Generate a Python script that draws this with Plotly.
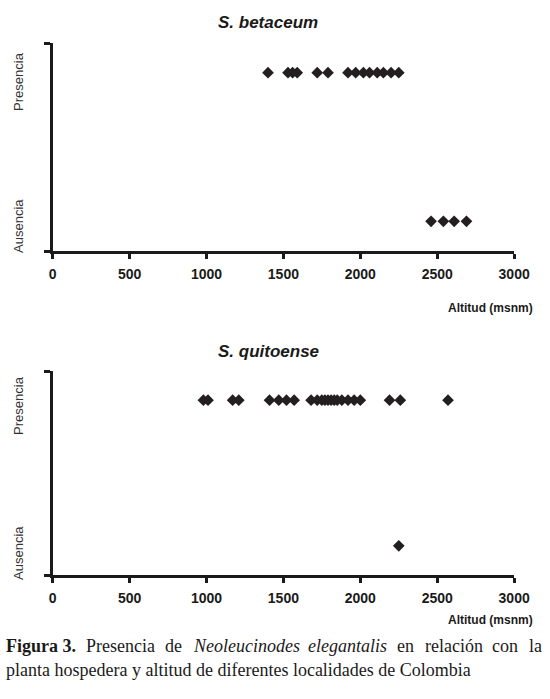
import plotly.graph_objects as go

# ---- data ----
x_ticks = [0, 500, 1000, 1500, 2000, 2500, 3000]
bet_presencia = [1400, 1530, 1560, 1590, 1720, 1790, 1920, 1970, 2020, 2060, 2110, 2150, 2200, 2250]
bet_ausencia = [2460, 2540, 2610, 2690]
qui_presencia = [980, 1010, 1170, 1210, 1410, 1470, 1520, 1570, 1680, 1720, 1750, 1770, 1790,
                 1810, 1830, 1850, 1880, 1920, 1960, 2000, 2190, 2260, 2570]
qui_ausencia = [2250]
titles = ["S. betaceum", "S. quitoense"]
y_labels = ["Presencia", "Ausencia"]
x_title = "Altitud (msnm)"

W, H = 550, 699
WX = 534  # effective horizontal extent observed in the rendered page
def px(x):
    return (x - 4) / WX
def py(y):
    return 1 - y / H

MARK = dict(symbol="diamond", size=9, color="#231f20", line=dict(width=0))
fig = go.Figure()
for xs, val, axis in [(bet_presencia, 1, 1), (bet_ausencia, 0, 1),
                      (qui_presencia, 1, 2), (qui_ausencia, 0, 2)]:
    fig.add_trace(go.Scatter(x=xs, y=[val] * len(xs), mode="markers", marker=MARK,
                             xaxis="x" if axis == 1 else "x2", yaxis="y" if axis == 1 else "y2",
                             showlegend=False, hoverinfo="x"))

tickfont = dict(family="Liberation Sans, Arial", size=14, color="#1a1a1a", weight="bold")
xcommon = dict(range=[0, 3000], tickvals=x_ticks, ticktext=[str(t) for t in x_ticks],
               showline=True, linewidth=3, linecolor="#1a1a1a", ticks="outside", ticklen=5,
               tickwidth=3, tickcolor="#1a1a1a", showgrid=False, zeroline=False,
               tickfont=tickfont, ticklabelstandoff=3, domain=[px(53), px(518)], fixedrange=True)
ycommon = dict(range=[-0.2, 1.2], tickvals=[-0.2, 1.2], showticklabels=False,
               showline=True, linewidth=3, linecolor="#1a1a1a", ticks="outside", ticklen=6,
               tickwidth=3, tickcolor="#1a1a1a", showgrid=False, zeroline=False, fixedrange=True)

fig.update_layout(
    width=W, height=H, autosize=False, margin=dict(l=0, r=0, t=0, b=0),
    paper_bgcolor="white", plot_bgcolor="white",
    xaxis=dict(**xcommon, anchor="y"),
    yaxis=dict(**ycommon, domain=[py(251), py(43)], anchor="x"),
    xaxis2=dict(**xcommon, anchor="y2"),
    yaxis2=dict(**ycommon, domain=[py(575), py(371)], anchor="x2"),
)

ann = []
for t, y in zip(titles, [22, 351]):
    ann.append(dict(text=t, x=px(270), y=py(y), xref="paper", yref="paper", showarrow=False,
                    xanchor="center", yanchor="middle",
                    font=dict(family="Liberation Sans, Arial", size=17, color="#1a1a1a",
                              weight="bold", style="italic")))
for (yp, ya) in [(81, 226), (405, 553)]:
    for lab, y in zip(y_labels, [yp, ya]):
        ann.append(dict(text=lab, x=px(18), y=py(y), xref="paper", yref="paper", showarrow=False,
                        xanchor="center", yanchor="middle", textangle=-90,
                        font=dict(family="Liberation Sans, Arial", size=13, color="#333333")))
for y in [308, 620]:
    ann.append(dict(text=x_title, x=px(539), y=py(y), xref="paper", yref="paper", showarrow=False,
                    xanchor="right", yanchor="middle",
                    font=dict(family="Liberation Sans, Arial", size=12, color="#1a1a1a",
                              weight="bold")))
serif = "Liberation Serif, Times New Roman, serif"
line1 = [("<b>Figura 3.</b>", 4), ("Presencia", 85), ("de", 164), ("<i>Neoleucinodes</i>", 192),
         ("<i>elegantalis</i>", 308), ("en", 398), ("relación", 426), ("con", 494), ("la", 531)]
for w, x in line1:
    ann.append(dict(text=w, x=px(x), y=py(646), xref="paper", yref="paper", showarrow=False,
                    xanchor="left", yanchor="middle",
                    font=dict(family=serif, size=18, color="#1a1a1a")))
ann.append(dict(text="planta hospedera y altitud de diferentes localidades de Colombia",
                x=px(4), y=py(670), xref="paper", yref="paper", showarrow=False,
                xanchor="left", yanchor="middle",
                font=dict(family=serif, size=18, color="#1a1a1a")))
fig.update_layout(annotations=ann)

fig.write_html("out.html", config={"responsive": False, "displayModeBar": False},
               post_script="document.body.style.margin='0';document.body.style.overflow='hidden';")
